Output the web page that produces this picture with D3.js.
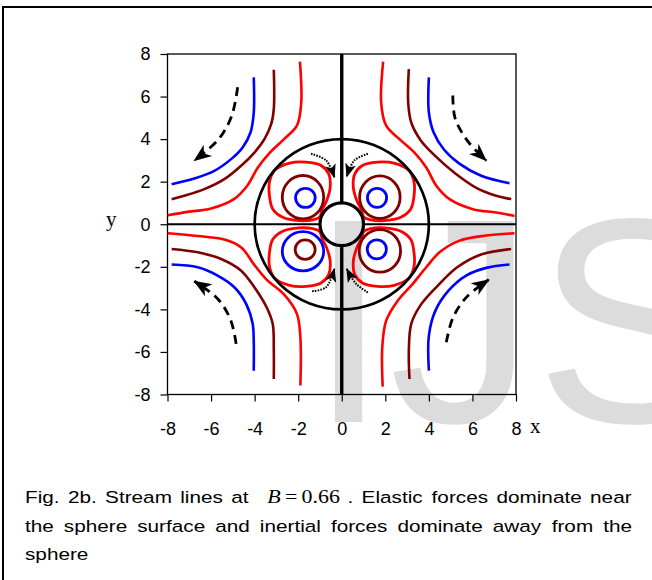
<!DOCTYPE html>
<html>
<head>
<meta charset="utf-8">
<script src="https://cdn.jsdelivr.net/npm/d3@7"></script>
<style>
  html, body { margin: 0; padding: 0; background: #fff; }
  svg { display: block; }
</style>
</head>
<body>
<svg id="fig" width="652" height="580"></svg>
<script>
// ---- axis ticks ----
const tickValues = [-8, -6, -4, -2, 0, 2, 4, 6, 8];

// ---- open streamlines, one list of [x, y] per line and quadrant ----
// level "a" = outermost (blue), "b" = middle (dark red), "c" = inner (red)
const streamA_UL = [[-4.04,6.90],[-4.04,5.25],[-4.19,4.31],[-4.55,3.61],[-5.08,3.06],[-5.85,2.51],[-6.77,2.15],[-7.81,1.88]];
const streamA_UR = [[4.00,6.90],[4.00,5.25],[4.22,4.31],[4.70,3.50],[5.40,2.85],[6.40,2.28],[7.70,1.93]];
const streamA_LL = [[-7.81,-1.89],[-6.61,-2.02],[-5.70,-2.41],[-4.93,-2.96],[-4.39,-3.74],[-4.09,-4.68],[-4.04,-5.50],[-4.04,-6.88]];
const streamA_LR = [[4.00,-6.88],[4.00,-5.23],[4.30,-4.06],[4.90,-3.12],[5.71,-2.41],[6.63,-2.05],[7.70,-1.89]];

const streamB_UL = [[-3.12,7.26],[-3.12,5.41],[-3.24,4.70],[-3.55,4.00],[-4.01,3.37],[-4.62,2.75],[-5.39,2.12],[-6.31,1.65],[-7.23,1.34],[-7.81,1.18]];
const streamB_UR = [[3.08,7.29],[3.05,5.72],[3.19,4.78],[3.62,3.95],[4.30,3.20],[5.20,2.40],[6.20,1.70],[7.09,1.34],[7.78,1.18]];
const streamB_LL = [[-7.81,-1.16],[-6.61,-1.32],[-5.54,-1.63],[-4.62,-2.18],[-4.01,-2.96],[-3.45,-3.90],[-3.17,-4.68],[-3.12,-5.90],[-3.12,-7.27]];
const streamB_LR = [[3.11,-7.27],[3.08,-5.94],[3.19,-4.68],[3.62,-3.80],[4.35,-2.95],[5.30,-2.02],[6.40,-1.42],[7.78,-1.16]];

const streamC_UL = [[-1.92,7.64],[-1.86,5.72],[-2.06,4.63],[-2.65,4.00],[-3.30,3.37],[-3.85,2.67],[-4.34,1.81],[-4.95,1.18],[-6.00,0.74],[-7.07,0.58],[-7.99,0.42]];
const streamC_UR = [[1.90,7.64],[1.81,5.72],[2.04,4.63],[2.65,4.00],[3.34,3.37],[3.88,2.67],[4.34,1.81],[4.95,1.18],[6.02,0.71],[7.09,0.55],[7.93,0.39]];
const streamC_LL = [[-7.99,-0.42],[-6.61,-0.55],[-5.39,-0.72],[-4.60,-1.10],[-4.05,-1.86],[-3.45,-2.60],[-2.65,-3.30],[-2.06,-4.21],[-1.90,-5.31],[-1.90,-7.58]];
const streamC_LR = [[1.88,-7.63],[1.86,-5.78],[2.04,-4.53],[2.57,-3.59],[3.26,-2.80],[3.88,-2.02],[4.49,-1.32],[5.41,-0.77],[6.63,-0.53],[7.93,-0.42]];

// ---- closed recirculation loops (outer red loop of each eddy) ----
const loopC_UL = [[-2.40,2.87],[-1.64,2.92],[-0.95,2.76],[-0.60,2.37],[-0.53,1.74],[-0.69,1.11],[-0.90,0.68],[-1.02,0.33],[-1.33,0.21],[-1.94,0.17],[-2.71,0.33],[-3.17,0.72],[-3.32,1.35],[-3.32,1.97],[-3.09,2.52]];
const loopC_UR = [[2.40,2.87],[1.64,2.92],[0.95,2.76],[0.60,2.37],[0.53,1.74],[0.69,1.11],[0.90,0.68],[1.02,0.33],[1.33,0.21],[1.94,0.17],[2.71,0.33],[3.17,0.72],[3.32,1.35],[3.32,1.97],[3.09,2.52]];
const loopC_LL = [[-2.40,-2.87],[-1.64,-2.92],[-0.95,-2.76],[-0.60,-2.37],[-0.53,-1.74],[-0.69,-1.11],[-0.90,-0.68],[-1.02,-0.33],[-1.33,-0.21],[-1.94,-0.17],[-2.71,-0.33],[-3.17,-0.72],[-3.32,-1.35],[-3.32,-1.97],[-3.09,-2.52]];
const loopC_LR = [[2.40,-2.87],[1.64,-2.92],[0.95,-2.76],[0.60,-2.37],[0.53,-1.74],[0.69,-1.11],[0.90,-0.68],[1.02,-0.33],[1.33,-0.21],[1.94,-0.17],[2.71,-0.33],[3.17,-0.72],[3.32,-1.35],[3.32,-1.97],[3.09,-2.52]];

// ---- near-circular eddy cores: [cx, cy, rx, ry, level] ----
const eddyCores = [
  [-1.78,  1.27, 0.95, 1.02, "b"], [-1.67,  1.24, 0.45, 0.45, "a"],
  [ 1.75,  1.27, 0.93, 1.00, "b"], [ 1.62,  1.24, 0.44, 0.45, "a"],
  [-1.78, -1.27, 0.95, 0.92, "a"], [-1.68, -1.19, 0.46, 0.46, "b"],
  [ 1.75, -1.25, 0.95, 1.00, "b"], [ 1.61, -1.18, 0.44, 0.45, "a"]
];

// ---- boundary circles (sphere surface r = 1, outer circle r = 4) ----
const circleRadii = [1, 4];

// ---- flow-direction arrows ----
const farArrows = [
  [[-4.78,6.44],[-5.05,5.10],[-5.65,4.00],[-6.77,2.99]],
  [[5.10,6.05],[5.20,5.00],[5.75,3.95],[6.63,2.99]],
  [[-4.85,-5.62],[-5.10,-4.50],[-5.70,-3.50],[-6.77,-2.68]],
  [[4.80,-5.55],[5.10,-4.40],[5.75,-3.40],[6.75,-2.61]]
];
const nearArrows = [
  [[-1.41,3.31],[-0.72,3.00],[-0.34,2.21]],
  [[1.20,3.31],[0.58,3.00],[0.23,2.24]],
  [[-1.36,-3.15],[-0.72,-2.96],[-0.34,-2.10]],
  [[1.20,-3.20],[0.66,-2.80],[0.23,-2.10]]
];

// ---- caption words ----
const captionLine1 = ["Fig.", "2b.", "Stream", "lines", "at", "$B=0.66$", ".", "Elastic", "forces", "dominate", "near"];
const captionLine2 = ["the", "sphere", "surface", "and", "inertial", "forces", "dominate", "away", "from", "the"];
const captionLine3 = ["sphere"];

// ================= drawing =================
const svg = d3.select("#fig");
const SANS = "'Liberation Sans', Arial, Helvetica, sans-serif";
const SERIF = "'Liberation Serif', 'Times New Roman', Times, serif";

svg.append("rect").attr("width", 652).attr("height", 580).attr("fill", "#fff");

// journal watermark
svg.append("text")
  .attr("x", 308).attr("y", 422)
  .attr("font-family", SANS).attr("font-size", 292)
  .attr("fill", "#dcdcdc")
  .text("IJS");

// page frame (left and top edges)
svg.append("path").attr("d", "M3,580 V7 H652")
  .attr("fill", "none").attr("stroke", "#000").attr("stroke-width", 2);

const x = d3.scaleLinear([-8, 8], [167.5, 516]);
const y = d3.scaleLinear([-8, 8], [394.5, 54]);
const levelColor = d3.scaleOrdinal(["a", "b", "c"], ["#0000ff", "#800000", "#ff0000"]);

// plot frame
svg.append("rect")
  .attr("x", x(-8)).attr("y", y(8))
  .attr("width", x(8) - x(-8)).attr("height", y(-8) - y(8))
  .attr("fill", "none").attr("stroke", "#000").attr("stroke-width", 1.3);

const openLine = d3.line().x(d => x(d[0])).y(d => y(d[1])).curve(d3.curveCatmullRom.alpha(0.5));
const closedLine = d3.line().x(d => x(d[0])).y(d => y(d[1])).curve(d3.curveCatmullRomClosed.alpha(0.5));

const streamlines = [
  ["a", streamA_UL], ["a", streamA_UR], ["a", streamA_LL], ["a", streamA_LR],
  ["b", streamB_UL], ["b", streamB_UR], ["b", streamB_LL], ["b", streamB_LR],
  ["c", streamC_UL], ["c", streamC_UR], ["c", streamC_LL], ["c", streamC_LR]
];
const plot = svg.append("g");
plot.selectAll("path.stream").data(streamlines).join("path")
  .attr("class", "stream")
  .attr("d", d => openLine(d[1]))
  .attr("fill", "none").attr("stroke", d => levelColor(d[0]))
  .attr("stroke-width", 2.6);

const loops = [loopC_UL, loopC_UR, loopC_LL, loopC_LR];
plot.selectAll("path.loop").data(loops).join("path")
  .attr("class", "loop")
  .attr("d", d => closedLine(d))
  .attr("fill", "none").attr("stroke", levelColor("c"))
  .attr("stroke-width", 2.8);

plot.selectAll("ellipse.core").data(eddyCores).join("ellipse")
  .attr("class", "core")
  .attr("cx", d => x(d[0])).attr("cy", d => y(d[1]))
  .attr("rx", d => x(d[2]) - x(0)).attr("ry", d => y(0) - y(d[3]))
  .attr("fill", "none").attr("stroke", d => levelColor(d[4]))
  .attr("stroke-width", 2.8);

// axis lines through the origin, interrupted by the sphere
const axisSegs = [
  [[0, 8], [0, 1], 3.4], [[0, -1], [0, -8], 3.4],
  [[-8, 0], [-1, 0], 2.2], [[1, 0], [8, 0], 2.2]
];
plot.selectAll("line.ax0").data(axisSegs).join("line")
  .attr("class", "ax0")
  .attr("x1", d => x(d[0][0])).attr("y1", d => y(d[0][1]))
  .attr("x2", d => x(d[1][0])).attr("y2", d => y(d[1][1]))
  .attr("stroke", "#000").attr("stroke-width", d => d[2]);

plot.selectAll("ellipse.bound").data(circleRadii).join("ellipse")
  .attr("class", "bound")
  .attr("cx", x(0)).attr("cy", y(0))
  .attr("rx", d => x(d) - x(0)).attr("ry", d => y(0) - y(d))
  .attr("fill", "none").attr("stroke", "#000")
  .attr("stroke-width", d => d === 1 ? 3.2 : 2.7);

// arrow heads
const defs = svg.append("defs");
defs.append("marker").attr("id", "headBig")
  .attr("markerUnits", "userSpaceOnUse")
  .attr("viewBox", "0 -10 20 20").attr("refX", 17).attr("refY", 0)
  .attr("markerWidth", 20).attr("markerHeight", 20).attr("orient", "auto")
  .append("path").attr("d", "M0,-7 L18,0 L0,7 L5,0 Z").attr("fill", "#000");
defs.append("marker").attr("id", "headSmall")
  .attr("markerUnits", "userSpaceOnUse")
  .attr("viewBox", "0 -8 16 16").attr("refX", 13).attr("refY", 0)
  .attr("markerWidth", 16).attr("markerHeight", 16).attr("orient", "auto")
  .append("path").attr("d", "M0,-5.5 L14,0 L0,5.5 L3.5,0 Z").attr("fill", "#000");

plot.selectAll("path.far").data(farArrows).join("path")
  .attr("class", "far")
  .attr("d", d => openLine(d))
  .attr("fill", "none").attr("stroke", "#000").attr("stroke-width", 2.8)
  .attr("stroke-dasharray", "9,6")
  .attr("marker-end", "url(#headBig)");

plot.selectAll("path.near").data(nearArrows).join("path")
  .attr("class", "near")
  .attr("d", d => openLine(d))
  .attr("fill", "none").attr("stroke", "#000").attr("stroke-width", 2)
  .attr("stroke-dasharray", "1.6,1.2")
  .attr("marker-end", "url(#headSmall)");

// axes
const fmt = d => String(d);
const gx = svg.append("g").attr("transform", `translate(0,${y(-8)})`)
  .call(d3.axisBottom(x).tickValues(tickValues).tickFormat(fmt).tickSize(7).tickPadding(21));
const gy = svg.append("g").attr("transform", `translate(${x(-8)},0)`)
  .call(d3.axisLeft(y).tickValues(tickValues).tickFormat(fmt).tickSize(7).tickPadding(10));
[gx, gy].forEach(g => {
  g.select(".domain").remove();
  g.selectAll(".tick line").attr("stroke", "#000").attr("stroke-width", 1.2);
  g.selectAll(".tick text").attr("font-family", SANS).attr("font-size", 18).attr("fill", "#000");
});

svg.append("text").attr("x", 530).attr("y", 433)
  .attr("font-family", SERIF).attr("font-size", 21).text("x");
svg.append("text").attr("x", 106).attr("y", 226)
  .attr("font-family", SERIF).attr("font-size", 21).text("y");

// caption: wide-set type, justified between two margins
const CAP_SX = 1.22;
const cap = svg.append("g").attr("fill", "#000");
function makeWord(w) {
  const t = cap.append("text").attr("font-family", SANS).attr("font-size", 17);
  if (w.startsWith("$")) {
    t.append("tspan").attr("font-family", SERIF).attr("font-style", "italic").attr("font-size", 18).text("B");
    t.append("tspan").attr("font-family", SERIF).attr("font-size", 18).attr("dx", 3.5).text("=");
    t.append("tspan").attr("font-family", SERIF).attr("font-size", 18).attr("dx", 3.5).text("0.66");
  } else {
    t.text(w);
  }
  return t;
}
function captionLine(words, yb, x0, x1, justify) {
  const nodes = words.map(w => makeWord(w));
  const widths = nodes.map(n => n.node().getBBox().width * CAP_SX);
  const weights = words.map((w, i) => i === 0 ? 0 :
    w.startsWith("$") ? 2.2 : (words[i - 1].startsWith("$") ? 0.9 : 1));
  const total = d3.sum(widths);
  const wsum = d3.sum(weights);
  const unit = justify ? (x1 - x0 - total) / wsum : 6;
  let cx = x0;
  nodes.forEach((n, i) => {
    cx += weights[i] * unit;
    n.attr("transform", `translate(${cx},${yb}) scale(${CAP_SX},1)`);
    cx += widths[i];
  });
}
captionLine(captionLine1, 503, 25, 632, true);
captionLine(captionLine2, 532, 25, 632, true);
captionLine(captionLine3, 560, 25, 632, false);
</script>
</body>
</html>
